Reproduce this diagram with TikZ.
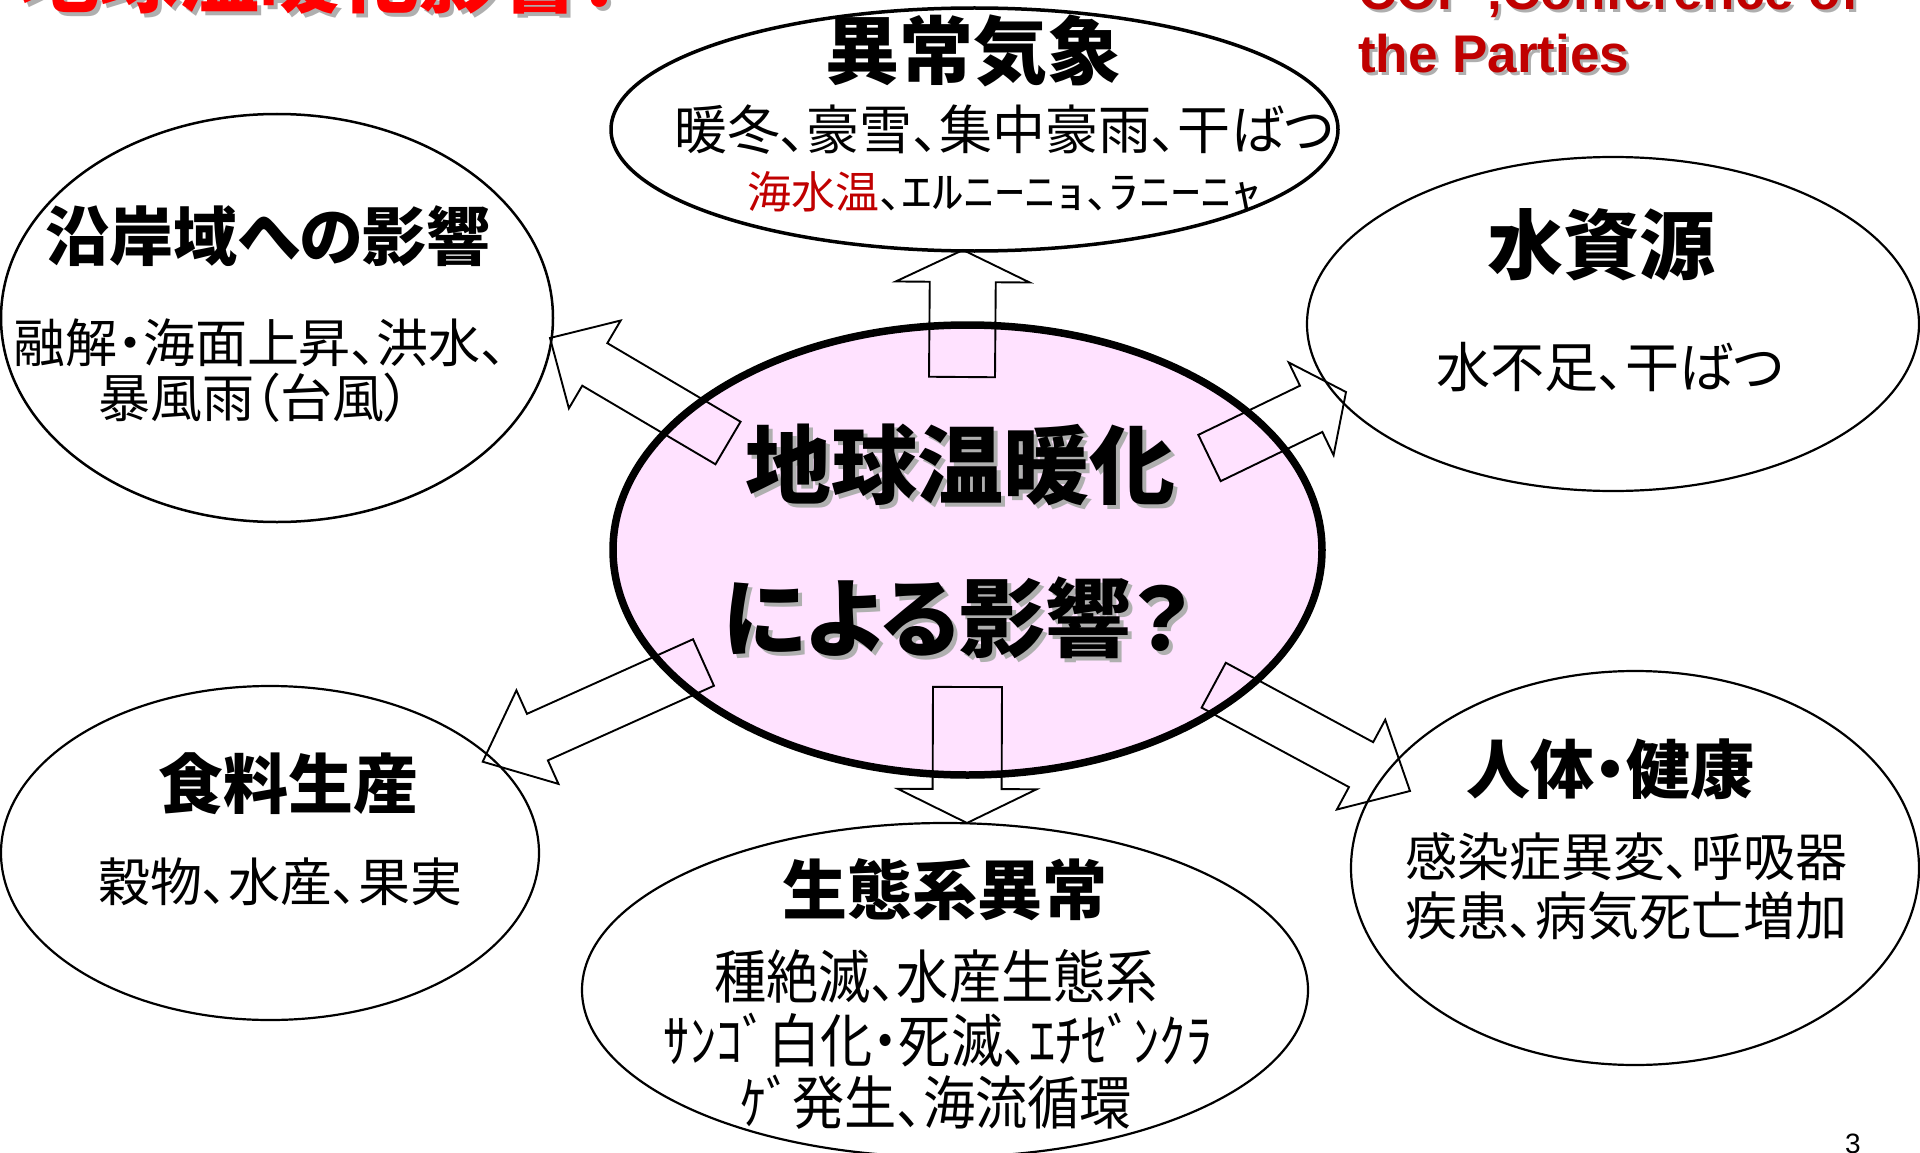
\documentclass[tikz,border=0pt]{standalone}
\usepackage{fontspec}
\usetikzlibrary{shapes.geometric,calc}
\newfontfamily\jp{Noto Sans CJK JP}[RawFeature=+palt]
\newfontfamily\jpn{Noto Sans CJK JP}[RawFeature=+palt,FakeStretch=0.9]
\newfontfamily\lat{Liberation Sans}
\definecolor{pinkfill}{RGB}{255,226,255}
\definecolor{darkred}{RGB}{192,0,0}
\definecolor{shadowgray}{RGB}{175,175,175}
\newcommand\fsz[1]{\fontsize{#1}{#1}\selectfont}
\newcommand\hw[1]{\scalebox{1.4}[1]{#1}}
\newcommand\blockarrow[5]{%
  \coordinate (ab) at ($(#2)!#5!(#1)$);
  \draw[blockarr] ($(#1)!#3!90:(#2)$) -- ($(ab)!#3!90:(#2)$) -- ($(ab)!#4!90:(#2)$)
    -- (#2) -- ($(ab)!#4!-90:(#2)$) -- ($(ab)!#3!-90:(#2)$) -- ($(#1)!#3!-90:(#2)$) -- cycle;
}
\tikzset{
  outer/.style={ellipse, draw, line width=2.2pt, fill=white, inner sep=0pt},
  blockarr/.style={draw, line width=1.9pt, line join=miter},
  txt/.style={inner sep=0pt, font=\jp},
}
\begin{document}
\begin{tikzpicture}[x=1pt,y=-1pt]
\useasboundingbox (0,0) rectangle (1920,1153);
\fill[white] (0,0) rectangle (1920,1153);

% titles
\node[txt, anchor=base west, text=shadowgray, font=\jp\bfseries\fsz{80}] (titleS) at (23,11) {地球温暖化影響！};
\node[txt, anchor=base west, text=red, font=\jp\bfseries\fsz{80}] (title) at (19,7) {地球温暖化影響！};
\node[txt, anchor=base west, text=shadowgray, font=\lat\bfseries\fsz{53}] (copS1) at (1361,13) {COP ,Conference of};
\node[txt, anchor=base west, text=darkred, font=\lat\bfseries\fsz{53}] (cop1) at (1358,10) {COP ,Conference of};
\node[txt, anchor=base west, text=shadowgray, font=\lat\bfseries\fsz{53}] (copS2) at (1361,76) {the Parties};
\node[txt, anchor=base west, text=darkred, font=\lat\bfseries\fsz{53}] (cop2) at (1358,73) {the Parties};

% ellipses
\node[outer, line width=3.5pt, minimum width=727pt, minimum height=243pt] (weather) at (974.5,129.5) {};
\node[outer, line width=2.5pt, minimum width=552pt, minimum height=408pt] (coast) at (277,318) {};
\node[outer, minimum width=612pt, minimum height=334pt] (water) at (1613,324) {};
\node[outer, minimum width=538pt, minimum height=334pt] (food) at (270,853) {};
\node[outer, minimum width=726pt, minimum height=334pt] (eco) at (945,990) {};
\node[outer, minimum width=568pt, minimum height=394pt] (health) at (1635,868) {};
\node[ellipse, draw, line width=7.5pt, fill=pinkfill, inner sep=0pt, minimum width=709pt, minimum height=450pt] (center) at (967.5,550) {};

% block arrows
\coordinate (tU) at (962,377);   \coordinate (pU) at (963,250);
\coordinate (tD) at (967.5,687); \coordinate (pD) at (967,823);
\coordinate (tUL) at (728,443);  \coordinate (pUL) at (550,338);
\coordinate (tUR) at (1209.5,458); \coordinate (pUR) at (1346,392);
\coordinate (tLD) at (703.5,662.5); \coordinate (pLD) at (482.7,761.7);
\coordinate (tRD) at (1213.7,685.2); \coordinate (pRD) at (1410,791);
\blockarrow{tU}{pU}{33pt}{67pt}{32pt}
\blockarrow{tD}{pD}{34.5pt}{69.5pt}{34pt}
\blockarrow{tUL}{pUL}{24.7pt}{51pt}{52pt}
\blockarrow{tUR}{pUR}{25.7pt}{51.5pt}{38.7pt}
\blockarrow{tLD}{pLD}{25.5pt}{51.3pt}{60pt}
\blockarrow{tRD}{pRD}{25.5pt}{51pt}{55.6pt}

% center text
\node[txt, text=shadowgray, font=\jp\bfseries\fsz{86}] (c1s) at (964,469) {地球温暖化};
\node[txt, font=\jp\bfseries\fsz{86}] (c1) at (960,465) {地球温暖化};
\node[txt, text=shadowgray, font=\jp\bfseries\fsz{86}] (c2s) at (961,622) {による影響？};
\node[txt, font=\jp\bfseries\fsz{86}] (c2) at (957,618) {による影響？};

% weather
\node[txt, font=\jp\bfseries\fsz{74}] (w1) at (973,51) {異常気象};
\node[txt, font=\jp\fsz{53}] (w2) at (1004,130) {暖冬、豪雪、集中豪雨、干ばつ};
\node[txt, font=\jp\fsz{44}] (w3) at (1005,192) {\textcolor{darkred}{海水温}、\hw{ｴﾙﾆｰﾆｮ}、\hw{ﾗﾆｰﾆｬ}};

% coast
\node[txt, font=\jp\bfseries\fsz{64}] (k1) at (268,236) {沿岸域への影響};
\node[txt, font=\jp\fsz{52}] (k2) at (260,343) {融解・海面上昇、洪水、};
\node[txt, font=\jp\fsz{52}] (k3) at (254,398) {暴風雨（台風）};

% water
\node[txt, font=\jp\bfseries\fsz{76}] (s1) at (1601,245) {水資源};
\node[txt, font=\jp\fsz{54}] (s2) at (1610,367) {水不足、干ばつ};

% food
\node[txt, font=\jp\bfseries\fsz{65}] (f1) at (288,784) {食料生産};
\node[txt, font=\jp\fsz{52}] (f2) at (280,882) {穀物、水産、果実};

% eco
\node[txt, font=\jp\bfseries\fsz{65}] (e1) at (945,890) {生態系異常};
\node[txt, font=\jpn\fsz{58}] (e2) at (936,976) {種絶滅、水産生態系};
\node[txt, font=\jpn\fsz{58}] (e3) at (938,1040) {ｻﾝｺﾞ白化・死滅、ｴﾁｾﾞﾝｸﾗ};
\node[txt, font=\jpn\fsz{58}] (e4) at (936,1102) {ｹﾞ発生、海流循環};

% health
\node[txt, font=\jp\bfseries\fsz{64}] (h1) at (1610,769) {人体・健康};
\node[txt, font=\jp\fsz{52}] (h2) at (1626,857) {感染症異変、呼吸器};
\node[txt, font=\jp\fsz{52}] (h3) at (1626,916) {疾患、病気死亡増加};

% page number
\node[txt, anchor=base, font=\lat\fsz{28}] (pg) at (1853,1153) {3};
\end{tikzpicture}
\end{document}
